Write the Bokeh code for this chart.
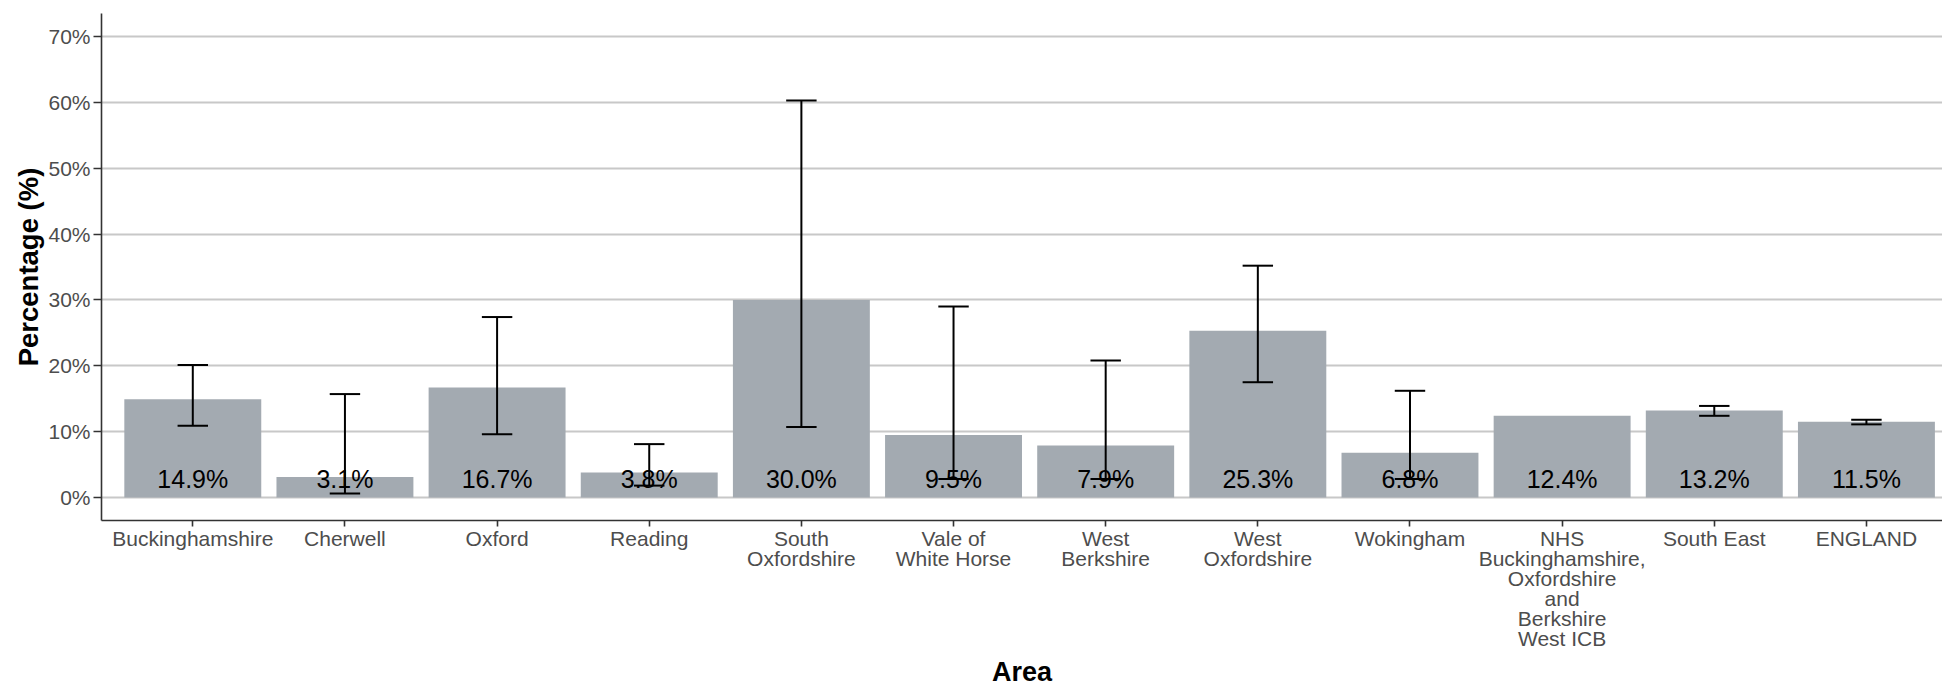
from bokeh.plotting import figure
from bokeh.models import (Range1d, FixedTicker, PrintfTickFormatter,
                          ColumnDataSource, AllLabels)
from bokeh.core.properties import value
from bokeh.embed import file_html
from bokeh.resources import INLINE

# ---------------- data ----------------
categories = ["Buckinghamshire", "Cherwell", "Oxford", "Reading",
              "South\nOxfordshire", "Vale of\nWhite Horse", "West\nBerkshire",
              "West\nOxfordshire", "Wokingham",
              "NHS\nBuckinghamshire,\nOxfordshire\nand\nBerkshire\nWest ICB",
              "South East", "ENGLAND"]
values = [14.9, 3.1, 16.7, 3.8, 30.0, 9.5, 7.9, 25.3, 6.8, 12.4, 13.2, 11.5]
lower_ci = [10.9, 0.6, 9.6, 1.8, 10.7, 2.8, 2.8, 17.5, 2.8, None, 12.4, 11.1]
upper_ci = [20.1, 15.7, 27.4, 8.1, 60.3, 29.0, 20.8, 35.2, 16.2, None, 13.9, 11.8]
y_ticks = [0, 10, 20, 30, 40, 50, 60, 70]

FONT = "Liberation Sans"
BAR_COLOR = "#A3AAB1"
TEXT_GREY = "#4D4D4D"
AXIS_COLOR = "#333333"

xs = list(range(1, len(categories) + 1))
bar_src = ColumnDataSource(dict(x=xs, top=values,
                                label=[f"{v:.1f}%" for v in values],
                                ly=[2.87] * len(values)))

ex, elo, ehi = [], [], []
for x, lo, hi in zip(xs, lower_ci, upper_ci):
    if lo is not None and hi is not None:
        ex.append(x); elo.append(lo); ehi.append(hi)
cap_half = 0.1
err_src = ColumnDataSource(dict(x=ex, lo=elo, hi=ehi,
                                x0=[x - cap_half for x in ex],
                                x1=[x + cap_half for x in ex]))

p = figure(width=1942, height=690,
           x_range=Range1d(0.4, 12.5), y_range=Range1d(-3.5, 73.5),
           output_backend="svg", toolbar_location=None,
           min_border_left=101, min_border_right=0,
           min_border_top=13, min_border_bottom=170)
p.outline_line_color = None
p.background_fill_color = "white"
p.border_fill_color = "white"

# grid
p.xgrid.grid_line_color = None
p.ygrid.ticker = FixedTicker(ticks=y_ticks)
p.ygrid.grid_line_color = "#C8C8C8"
p.ygrid.grid_line_width = 1.8

# bars
p.vbar(x="x", top="top", width=0.9, source=bar_src,
       fill_color=BAR_COLOR, line_color=None)

# error bars
p.segment(x0="x", y0="lo", x1="x", y1="hi", source=err_src,
          line_color="black", line_width=2)
p.segment(x0="x0", y0="lo", x1="x1", y1="lo", source=err_src,
          line_color="black", line_width=2)
p.segment(x0="x0", y0="hi", x1="x1", y1="hi", source=err_src,
          line_color="black", line_width=2)

# value labels
p.text(x="x", y="ly", text="label", source=bar_src,
       text_font=value(FONT), text_font_size="25px", text_color="black",
       text_align="center", text_baseline="middle")

# y axis
ya = p.yaxis[0]
ya.ticker = FixedTicker(ticks=y_ticks)
ya.formatter = PrintfTickFormatter(format="%d%%")
ya.major_label_text_font = FONT
ya.major_label_text_font_size = "21px"
ya.major_label_text_color = TEXT_GREY
ya.major_label_standoff = 3
ya.major_tick_in = 0
ya.major_tick_out = 8
ya.minor_tick_line_color = None
ya.axis_line_color = AXIS_COLOR
ya.axis_line_width = 1.6
ya.major_tick_line_color = AXIS_COLOR
ya.major_tick_line_width = 1.6
ya.axis_label = "Percentage (%)"
ya.axis_label_text_font = FONT
ya.axis_label_text_font_style = "bold"
ya.axis_label_text_font_size = "27.5px"
ya.axis_label_text_color = "black"
ya.axis_label_standoff = 1

# x axis
xa = p.xaxis[0]
xa.ticker = FixedTicker(ticks=xs)
xa.major_label_overrides = {x: c for x, c in zip(xs, categories)}
xa.major_label_policy = AllLabels()
xa.major_label_text_font = FONT
xa.major_label_text_font_size = "21px"
xa.major_label_text_color = TEXT_GREY
xa.major_label_text_line_height = 0.875
xa.major_label_standoff = 0
xa.major_tick_in = 0
xa.major_tick_out = 6
xa.minor_tick_line_color = None
xa.axis_line_color = AXIS_COLOR
xa.axis_line_width = 1.6
xa.major_tick_line_color = AXIS_COLOR
xa.major_tick_line_width = 1.6
xa.axis_label = "Area"
xa.axis_label_text_font = FONT
xa.axis_label_text_font_style = "bold"
xa.axis_label_text_font_size = "27px"
xa.axis_label_text_color = "black"
xa.axis_label_text_line_height = 0.8
xa.axis_label_standoff = 4

open("out.html", "w").write(file_html(p, INLINE))
